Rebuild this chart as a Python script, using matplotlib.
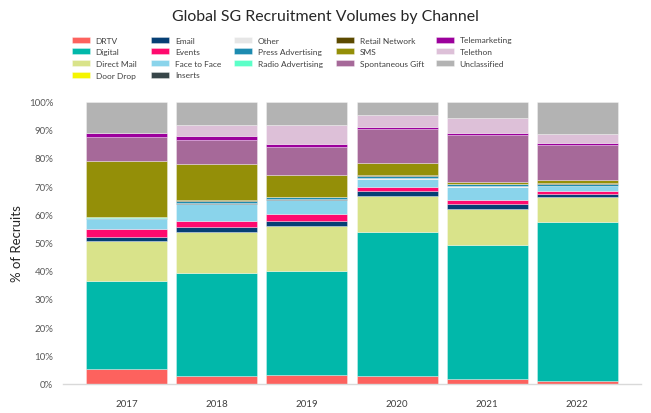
import matplotlib
matplotlib.use("Agg")
import matplotlib.pyplot as plt
import numpy as np

plt.rcParams['font.family'] = ['Lato', 'DejaVu Sans']

years = ["2017", "2018", "2019", "2020", "2021", "2022"]
channels = ["DRTV", "Digital", "Direct Mail", "Door Drop", "Email", "Events",
            "Face to Face", "Inserts", "Other", "Press Advertising",
            "Radio Advertising", "Retail Network", "SMS", "Spontaneous Gift",
            "Telemarketing", "Telethon", "Unclassified"]

drtv         = [5.1, 2.7, 3.0, 2.5, 1.5, 0.8]
digital      = [31.3, 36.5, 37.0, 51.4, 47.6, 56.6]
direct_mail  = [14.2, 14.6, 15.9, 12.6, 12.7, 8.6]
door_drop    = [0.0, 0.0, 0.0, 0.0, 0.0, 0.0]
email        = [1.3, 1.8, 1.8, 1.8, 1.7, 1.1]
events       = [2.9, 2.1, 2.3, 1.4, 1.7, 1.0]
face_to_face = [3.4, 6.1, 5.2, 2.8, 4.5, 1.9]
inserts      = [0.2, 0.1, 0.1, 0.1, 0.1, 0.1]
other        = [0.1, 0.1, 0.1, 0.1, 0.1, 0.1]
press_adv    = [0.3, 0.7, 0.6, 0.8, 0.7, 0.6]
radio_adv    = [0.1, 0.1, 0.1, 0.2, 0.1, 0.1]
retail       = [0.2, 0.2, 0.1, 0.2, 0.1, 0.1]
sms          = [19.9, 13.0, 7.8, 4.2, 0.7, 1.3]
spontaneous  = [8.5, 8.3, 9.7, 12.1, 16.7, 12.3]
telemarketing= [1.4, 1.6, 1.4, 0.9, 0.7, 0.7]
telethon     = [0.0, 3.7, 6.5, 4.2, 5.1, 3.1]
unclassified = [11.1, 8.4, 8.4, 4.7, 6.0, 11.6]

series = [drtv, digital, direct_mail, door_drop, email, events, face_to_face,
          inserts, other, press_adv, radio_adv, retail, sms, spontaneous,
          telemarketing, telethon, unclassified]

colors = ["#FD625E", "#01B8AA", "#D9E38A", "#F5F500", "#063F75", "#FF0A6E",
          "#8AD4EB", "#374649", "#E6E6E6", "#1D8BB0", "#5CFFC8", "#5C4A00",
          "#948F08", "#A66999", "#9C009C", "#DDC0D8", "#B3B3B3"]

fig = plt.figure(figsize=(6.51, 4.14), dpi=100)
ax = fig.add_axes([63/651, (414-384.5)/414, (641-63)/651, (384.5-102.5)/414])

x = np.arange(len(years))
bottom = np.zeros(len(years))
handles = []
for name, vals, c in zip(channels, series, colors):
    v = np.array(vals)
    b = ax.bar(x, v, bottom=bottom, width=0.9, color=c, label=name,
               edgecolor=(1, 1, 1, 0.45), linewidth=0.5)
    handles.append(b)
    bottom += v

ax.set_xlim(-0.71, 5.71)
ax.set_ylim(0, 100)
ax.set_xticks(x)
ax.set_xticklabels(years, fontsize=7, color="#404040")
ax.set_yticks(np.arange(0, 101, 10))
ax.set_yticklabels([f"{v}%" for v in range(0, 101, 10)], fontsize=7, color="#595959")
ax.tick_params(axis='both', length=0)
ax.tick_params(axis='y', pad=7)
ax.tick_params(axis='x', pad=11)
for s in ["top", "right", "left"]:
    ax.spines[s].set_visible(False)
ax.spines["bottom"].set_color("#D9D9D9")
ax.spines["bottom"].set_linewidth(1)

ax.set_ylabel("% of Recruits", fontsize=9.5, color="#262626", labelpad=4)

fig.text(0.5, 1 - 17/414, "Global SG Recruitment Volumes by Channel",
         ha="center", va="center", fontsize=11.4, color="#262626")

# legend: five columns placed at their own x positions
col_sizes = [4, 4, 3, 3, 3]
col_x = [72, 151, 234, 336, 436]
start = 0
for n, cx in zip(col_sizes, col_x):
    leg = fig.legend(handles=handles[start:start + n], labels=channels[start:start + n],
                     ncol=1, loc="upper left", bbox_to_anchor=(cx/651, 1 - 37.5/414),
                     frameon=False, fontsize=6.0, handlelength=2.1, handleheight=0.7,
                     handletextpad=0.75, labelspacing=0.56,
                     borderaxespad=0, borderpad=0)
    for t in leg.get_texts():
        t.set_color("#404040")
    start += n

fig.savefig("out.png", dpi=100)
